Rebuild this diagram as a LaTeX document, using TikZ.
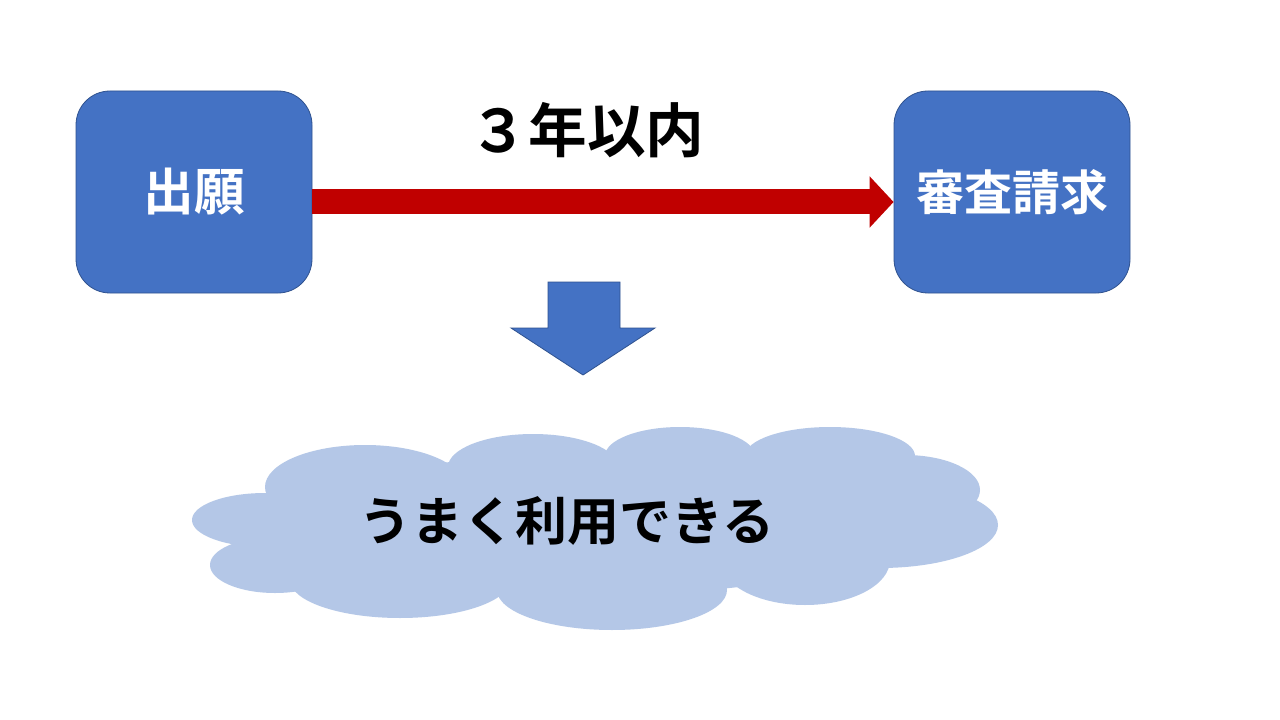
\documentclass[tikz,border=0pt]{standalone}
\usepackage{fontspec}
\newfontfamily\jpb{Noto Sans CJK JP Bold}
\usetikzlibrary{arrows.meta}
\definecolor{boxblue}{HTML}{4472C4}
\definecolor{boxedge}{HTML}{2F528F}
\definecolor{arrred}{HTML}{C00000}
\definecolor{cloudblue}{HTML}{B4C7E7}
\tikzset{
  stepbox/.style={rectangle, rounded corners=25.5pt, fill=boxblue, draw=boxedge, line width=0.6pt,
    minimum width=177pt, minimum height=151.5pt, inner sep=0pt, text=white,
    font=\jpb\fontsize{36}{36}\selectfont},
  redarrow/.style={draw=arrred, line width=18.75pt, -{Triangle[length=18pt,width=37.5pt]}},
  cloudpart/.style={fill=cloudblue, draw=none},
  titletext/.style={font=\jpb\fontsize{44}{44}\selectfont, text=black, inner sep=0pt},
  cloudtext/.style={font=\jpb\fontsize{39}{39}\selectfont, text=black, inner sep=0pt},
}
\begin{document}
\begin{tikzpicture}[x=0.75pt,y=-0.75pt]
\useasboundingbox (0,0) rectangle (1280,720);
\fill[white] (0,0) rectangle (1280,720);
% boxes
\node[stepbox, font=\jpb\fontsize{38}{38}\selectfont] (a) at (194,192) {出願};
\node[stepbox] (b) at (1012,192) {審査請求};
% title
\node[titletext] (t) at (587,130) {３年以内};
% red arrow
\draw[redarrow] ([yshift=-7.5pt]a.east) -- ([yshift=-7.5pt]b.west);
% down arrow
\filldraw[fill=boxblue, draw=boxedge, line width=0.6pt]
  (548,282) -- (620,282) -- (620,328) -- (655,328) -- (583,375) -- (511,328) -- (548,328) -- cycle;
% cloud
\begin{scope}
\fill[cloudpart] (265,520) ellipse [x radius=73, y radius=27];
\fill[cloudpart] (365,487) ellipse [x radius=100, y radius=42];
\fill[cloudpart] (533,467) ellipse [x radius=85, y radius=33];
\fill[cloudpart] (680,456) ellipse [x radius=75, y radius=29];
\fill[cloudpart] (830,456) ellipse [x radius=85, y radius=29];
\fill[cloudpart] (905,490) ellipse [x radius=75, y radius=35];
\fill[cloudpart] (880,525) ellipse [x radius=118, y radius=43];
\fill[cloudpart] (805,560) ellipse [x radius=85, y radius=45];
\fill[cloudpart] (612,590) ellipse [x radius=115, y radius=40];
\fill[cloudpart] (400,580) ellipse [x radius=110, y radius=38];
\fill[cloudpart] (275,565) ellipse [x radius=65, y radius=28];
\fill[cloudpart] (590,525) ellipse [x radius=320, y radius=70];
\end{scope}
\node[cloudtext] (c) at (567,521) {うまく利用できる};
\end{tikzpicture}
\end{document}
